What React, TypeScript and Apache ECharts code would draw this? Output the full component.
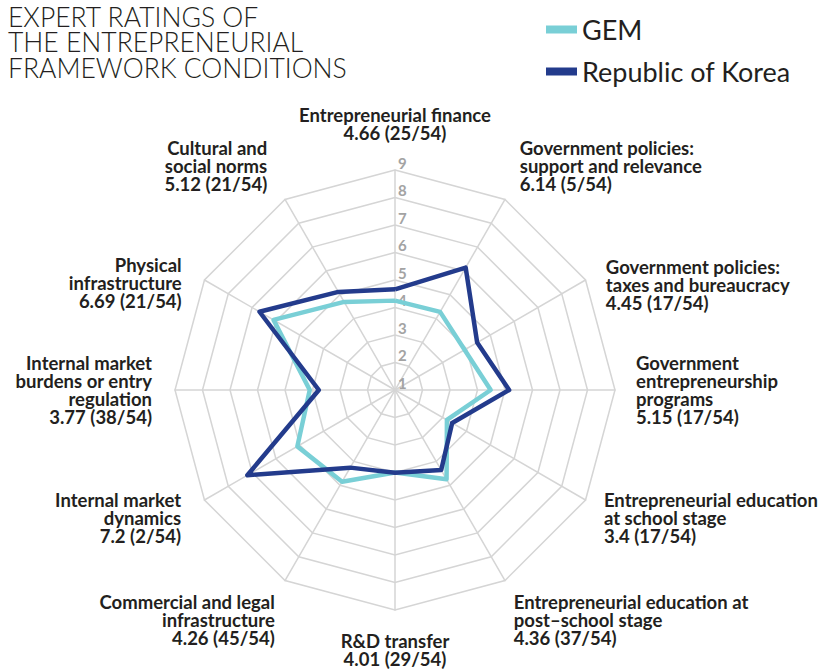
import React, { useEffect, useRef } from 'react';
import * as echarts from 'echarts';

// ---- data (clockwise from the top) ----
const indicatorNames: string[] = [
  'Entrepreneurial finance',
  'Government policies:\nsupport and relevance',
  'Government policies:\ntaxes and bureaucracy',
  'Government\nentrepreneurship\nprograms',
  'Entrepreneurial education\nat school stage',
  'Entrepreneurial education at\npost–school stage',
  'R&D transfer',
  'Commercial and legal\ninfrastructure',
  'Internal market\ndynamics',
  'Internal market\nburdens or entry\nregulation',
  'Physical\ninfrastructure',
  'Cultural and\nsocial norms',
];
const koreaRanks: string[] = ['25/54', '5/54', '17/54', '17/54', '17/54', '37/54', '29/54', '45/54', '2/54', '38/54', '21/54', '21/54'];
const koreaValues: number[] = [4.66, 6.14, 4.45, 5.15, 3.4, 4.36, 4.01, 4.26, 7.2, 3.77, 6.69, 5.12];
const gemValues: number[] = [4.25, 4.28, 3.92, 4.48, 3.18, 4.75, 4.0, 4.85, 5.1, 4.1, 6.1, 4.7];
const seriesNames: string[] = ['GEM', 'Republic of Korea'];
const scaleMin = 1;
const scaleMax = 9;
const titleLines: string[] = ['EXPERT RATINGS OF', 'THE ENTREPRENEURIAL', 'FRAMEWORK CONDITIONS'];

// ---- layout / style (clockwise from the top) ----
type NameLayout = { gap: number; align: string; vAlign: string; padding: number[] };
const nameLayouts: NameLayout[] = [
  { gap: 46, align: 'center', vAlign: 'middle', padding: [0, 0, 0, 0] },
  { gap: 7.5, align: 'left', vAlign: 'bottom', padding: [0, 0, 0, 11] },
  { gap: -10, align: 'left', vAlign: 'middle', padding: [0, 0, 0, 29] },
  { gap: 21, align: 'left', vAlign: 'middle', padding: [0, 0, 0, 0] },
  { gap: -18, align: 'left', vAlign: 'top', padding: [0, 0, 0, 34] },
  { gap: 14.5, align: 'left', vAlign: 'top', padding: [0, 0, 0, 1.5] },
  { gap: 40, align: 'center', vAlign: 'middle', padding: [0, 0, 0, 0] },
  { gap: 14.4, align: 'right', vAlign: 'top', padding: [0, 3, 0, 0] },
  { gap: -18, align: 'right', vAlign: 'top', padding: [0, 39, 0, 0] },
  { gap: 23, align: 'right', vAlign: 'middle', padding: [0, 0, 0, 0] },
  { gap: -6, align: 'right', vAlign: 'middle', padding: [0, 28, 0, 0] },
  { gap: 7.5, align: 'right', vAlign: 'bottom', padding: [0, 14, 0, 0] },
];

const GEM_COLOR = '#79cfd6';
const KOREA_COLOR = '#233b8c';
const GRID_COLOR = '#d5d5d5';
const TEXT_COLOR = '#231f20';

// ECharts lays radar indicators counter-clockwise; reorder so the chart reads clockwise.
const chartOrder: number[] = indicatorNames.map((_, i) => (i === 0 ? 0 : indicatorNames.length - i));

export default function App() {
  const ref = useRef<HTMLDivElement>(null);
  useEffect(() => {
    if (!ref.current) return;
    const chart = echarts.init(ref.current, undefined, { renderer: 'svg' });
    const indicator = chartOrder.map((i, k) => {
      const lay = nameLayouts[i];
      const ind: any = {
        name: `${indicatorNames[i]}\n${koreaValues[i]} (${koreaRanks[i]})`,
        min: scaleMin,
        max: scaleMax,
        nameGap: lay.gap,
        nameTextStyle: {
          align: lay.align,
          verticalAlign: lay.vAlign,
          padding: lay.padding,
          color: TEXT_COLOR,
          fontFamily: 'Lato',
          fontWeight: 'bold',
          fontSize: 18.5,
          lineHeight: 18,
        },
      };
      if (k === 0) {
        ind.axisLabel = {
          show: true,
          color: '#a3a3a3',
          fontFamily: 'Lato',
          fontWeight: 'bold',
          fontSize: 15,
          margin: -3,
          align: 'left',
          verticalAlign: 'bottom',
        };
      }
      return ind;
    });
    const option: any = {
      animation: false,
      backgroundColor: '#ffffff',
      title: {
        text: titleLines.join('\n'),
        left: 3,
        top: -1,
        textStyle: {
          fontFamily: 'Lato',
          fontWeight: 300,
          fontSize: 26.5,
          lineHeight: 25.5,
          color: TEXT_COLOR,
        },
      },
      legend: {
        data: seriesNames,
        orient: 'vertical',
        left: 541,
        top: 11,
        icon: 'rect',
        itemWidth: 31,
        itemHeight: 8,
        itemGap: 15,
        textStyle: {
          fontFamily: 'Lato',
          fontSize: 27,
          lineHeight: 27,
          color: TEXT_COLOR,
        },
      },
      radar: {
        center: [395, 390],
        radius: 220,
        shape: 'polygon',
        splitNumber: scaleMax - scaleMin,
        indicator,
        axisName: { show: true },
        axisLine: { lineStyle: { color: GRID_COLOR, width: 1.5 } },
        splitLine: { lineStyle: { color: GRID_COLOR, width: 1.5 } },
        splitArea: { show: false },
        axisTick: { show: false },
        axisLabel: { show: false },
      },
      series: [
        {
          type: 'radar',
          symbol: 'none',
          data: [
            {
              name: seriesNames[0],
              value: chartOrder.map((i) => gemValues[i]),
              lineStyle: { color: GEM_COLOR, width: 4.5, join: 'round' },
              itemStyle: { color: GEM_COLOR },
            },
            {
              name: seriesNames[1],
              value: chartOrder.map((i) => koreaValues[i]),
              lineStyle: { color: KOREA_COLOR, width: 4.5, join: 'round' },
              itemStyle: { color: KOREA_COLOR },
            },
          ],
        },
      ],
    };
    chart.setOption(option);
    return () => chart.dispose();
  }, []);
  return (
    <div
      ref={ref}
      style={{ position: 'fixed', left: 0, top: 0, width: 825, height: 669, background: '#fff' }}
    />
  );
}
